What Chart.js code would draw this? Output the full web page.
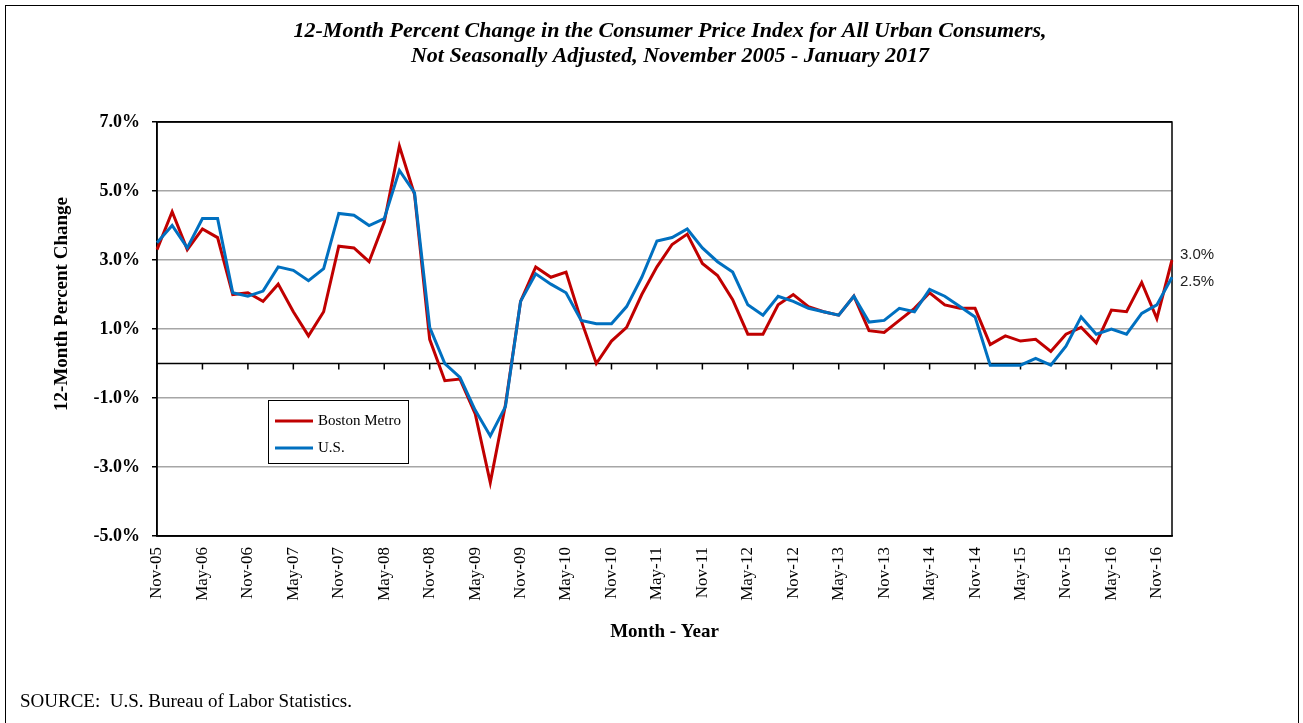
<!DOCTYPE html>
<html>
<head>
<meta charset="utf-8">
<script src="https://cdn.jsdelivr.net/npm/chart.js@4.4.1/dist/chart.umd.min.js"></script>
<style>
  html, body { margin: 0; padding: 0; background: #fff; }
  #wrap { position: relative; width: 1303px; height: 723px; }
</style>
</head>
<body>
<div id="wrap"><canvas id="grafico"></canvas></div>
<script>
const meses = ['Nov-05','Jan-06','Mar-06','May-06','Jul-06','Sep-06','Nov-06','Jan-07','Mar-07','May-07','Jul-07','Sep-07',
  'Nov-07','Jan-08','Mar-08','May-08','Jul-08','Sep-08','Nov-08','Jan-09','Mar-09','May-09','Jul-09','Sep-09',
  'Nov-09','Jan-10','Mar-10','May-10','Jul-10','Sep-10','Nov-10','Jan-11','Mar-11','May-11','Jul-11','Sep-11',
  'Nov-11','Jan-12','Mar-12','May-12','Jul-12','Sep-12','Nov-12','Jan-13','Mar-13','May-13','Jul-13','Sep-13',
  'Nov-13','Jan-14','Mar-14','May-14','Jul-14','Sep-14','Nov-14','Jan-15','Mar-15','May-15','Jul-15','Sep-15',
  'Nov-15','Jan-16','Mar-16','May-16','Jul-16','Sep-16','Nov-16','Jan-17'];

const boston = [3.3, 4.4, 3.3, 3.9, 3.65, 2.0, 2.05, 1.8, 2.3, 1.5, 0.8, 1.5, 3.4,
  3.35, 2.95, 4.1, 6.3, 4.9, 0.7, -0.5, -0.45, -1.45, -3.45, -1.2,
  1.8, 2.8, 2.5, 2.65, 1.25, 0.0, 0.65, 1.05, 2.0, 2.8, 3.45, 3.75,
  2.9, 2.55, 1.85, 0.85, 0.85, 1.7, 2.0, 1.65, 1.5, 1.4, 1.95, 0.95,
  0.9, 1.25, 1.6, 2.05, 1.7, 1.6, 1.6, 0.55, 0.8, 0.65, 0.7, 0.35,
  0.85, 1.05, 0.6, 1.55, 1.5, 2.35, 1.3, 3.0];

const eua = [3.5, 4.0, 3.35, 4.2, 4.2, 2.05, 1.95, 2.1, 2.8, 2.7, 2.4, 2.75, 4.35,
  4.3, 4.0, 4.2, 5.6, 4.95, 1.05, 0.0, -0.4, -1.35, -2.1, -1.25,
  1.8, 2.6, 2.3, 2.05, 1.25, 1.15, 1.15, 1.65, 2.5, 3.55, 3.65, 3.9,
  3.35, 2.95, 2.65, 1.7, 1.4, 1.95, 1.8, 1.6, 1.5, 1.4, 1.95, 1.2,
  1.25, 1.6, 1.5, 2.15, 1.95, 1.65, 1.35, -0.05, -0.05, -0.05, 0.15, -0.05,
  0.5, 1.35, 0.85, 1.0, 0.85, 1.45, 1.7, 2.5];

const yMin = -5;
const yMax = 7;
const yStep = 2;

const serif = "'Liberation Serif', 'Times New Roman', serif";
const sans = "'Liberation Sans', Arial, sans-serif";

// page frame + white background
const moldura = {
  id: 'moldura',
  beforeDraw(chart) {
    const c = chart.ctx;
    c.save();
    c.fillStyle = '#fff';
    c.fillRect(0, 0, chart.width, chart.height);
    c.strokeStyle = '#000';
    c.lineWidth = 1;
    c.strokeRect(5.5, 5.5, chart.width - 10, chart.height + 20);
    c.restore();
  }
};

// zero line with tick marks, plot area border
const linhaZero = {
  id: 'linhaZero',
  beforeDatasetsDraw(chart) {
    const { ctx: c, chartArea: a, scales: { x, y } } = chart;
    const y0 = y.getPixelForValue(0);
    c.save();
    c.strokeStyle = '#000';
    c.lineWidth = 1.5;
    c.beginPath();
    c.moveTo(a.left, y0);
    c.lineTo(a.right, y0);
    for (let i = 0; i < meses.length; i += 3) {
      const px = x.getPixelForValue(i);
      c.moveTo(px, y0);
      c.lineTo(px, y0 + 6);
    }
    c.stroke();
    c.strokeRect(a.left, a.top, a.right - a.left, a.bottom - a.top);
    c.restore();
  }
};

const legenda = {
  id: 'legenda',
  afterDatasetsDraw(chart) {
    const c = chart.ctx;
    const bx = 268, by = 400, bw = 140, bh = 63;
    c.save();
    c.fillStyle = '#fff';
    c.fillRect(bx, by, bw, bh);
    c.strokeStyle = '#000';
    c.lineWidth = 1;
    c.strokeRect(bx + 0.5, by + 0.5, bw, bh);
    c.font = '15px ' + serif;
    c.textBaseline = 'middle';
    chart.data.datasets.forEach((ds, i) => {
      const ly = by + 21 + i * 27;
      c.strokeStyle = ds.borderColor;
      c.lineWidth = 3;
      c.beginPath();
      c.moveTo(bx + 7, ly);
      c.lineTo(bx + 45, ly);
      c.stroke();
      c.fillStyle = '#000';
      c.fillText(ds.label, bx + 50, ly);
    });
    c.restore();
  }
};

const rotulos = {
  id: 'rotulos',
  afterDraw(chart) {
    const { ctx: c, chartArea: a, scales: { y } } = chart;
    const ult = chart.data.datasets.map(d => d.data[d.data.length - 1]);
    const maior = ult[0] >= ult[1] ? 0 : 1;
    c.save();
    c.font = '15px ' + sans;
    c.fillStyle = '#222';
    c.textBaseline = 'middle';
    c.textAlign = 'left';
    ult.forEach((v, i) => {
      const py = y.getPixelForValue(v) + (i === maior ? -5 : 5);
      c.fillText(v.toFixed(1) + '%', a.right + 8, py);
    });

    // y axis title
    c.save();
    c.translate(62, 304);
    c.rotate(-Math.PI / 2);
    c.font = 'bold 19px ' + serif;
    c.fillStyle = '#000';
    c.textAlign = 'center';
    c.fillText('12-Month Percent Change', 0, 0);
    c.restore();

    c.font = '19px ' + serif;
    c.fillStyle = '#000';
    c.textAlign = 'left';
    c.fillText('SOURCE:  U.S. Bureau of Labor Statistics.', 20, 702);
    c.restore();
  }
};

const ctx = document.getElementById('grafico').getContext('2d');
new Chart(ctx, {
  type: 'line',
  data: {
    labels: meses,
    datasets: [
      {
        label: 'Boston Metro',
        data: boston,
        borderColor: '#C00000',
        borderWidth: 3,
        pointRadius: 0,
        tension: 0,
        fill: false,
        order: 1
      },
      {
        label: 'U.S.',
        data: eua,
        borderColor: '#0070C0',
        borderWidth: 3,
        pointRadius: 0,
        tension: 0,
        fill: false,
        order: 0
      }
    ]
  },
  options: {
    responsive: true,
    maintainAspectRatio: false,
    animation: false,
    layout: { padding: { left: 37, right: 0, top: 0, bottom: 0 } },
    plugins: {
      legend: { display: false },
      tooltip: { enabled: false },
      title: {
        display: true,
        text: ['12-Month Percent Change in the Consumer Price Index for All Urban Consumers,',
               'Not Seasonally Adjusted, November 2005 - January 2017'],
        color: '#000',
        font: { family: serif, size: 22, style: 'italic', weight: 'bold', lineHeight: 1.15 },
        padding: { top: 18.3, bottom: 53.1 }
      }
    },
    scales: {
      x: {
        position: 'bottom',
        grid: { display: false, drawTicks: false },
        border: { display: true, color: '#000', width: 1.5 },
        ticks: {
          autoSkip: false,
          minRotation: 90,
          maxRotation: 90,
          padding: 11,
          color: '#000',
          font: { family: serif, size: 17 },
          callback: (v, i) => (i % 3 === 0 ? meses[i] : '')
        },
        title: {
          display: true,
          text: 'Month - Year',
          color: '#000',
          font: { family: serif, size: 19, weight: 'bold', lineHeight: 1.2 },
          padding: { top: 0, bottom: 79.6 }
        },
        afterFit: s => { s.height = 187; }
      },
      y: {
        min: yMin,
        max: yMax,
        ticks: {
          stepSize: yStep,
          padding: 12,
          color: '#000',
          font: { family: serif, size: 18, weight: 'bold' },
          callback: v => v.toFixed(1) + '%'
        },
        grid: {
          color: c => (c.tick && (c.tick.value === yMin || c.tick.value === yMax)) ? '#000' : '#a6a6a6',
          lineWidth: 1.5,
          tickLength: 5,
          tickColor: '#000'
        },
        border: { display: true, color: '#000', width: 1.5 },
        afterFit: s => { s.width = 120; }
      },
      direita: {
        type: 'linear',
        position: 'right',
        grid: { display: false, drawTicks: false },
        border: { display: false },
        ticks: { display: false },
        afterFit: s => { s.width = 131; }
      }
    }
  },
  plugins: [moldura, linhaZero, legenda, rotulos]
});
</script>
</body>
</html>
